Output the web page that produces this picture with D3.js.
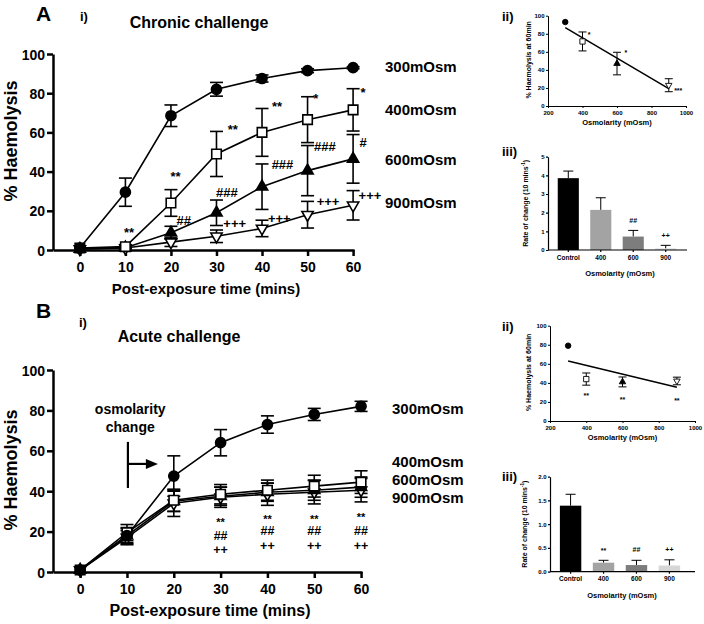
<!DOCTYPE html>
<html><head><meta charset="utf-8">
<script src="https://cdn.jsdelivr.net/npm/d3@7/dist/d3.min.js"></script>
<style>
body{margin:0;background:#fff;}
svg{font-family:"Liberation Sans",Arial,sans-serif;font-weight:bold;}
</style></head><body>
<svg id="fig" width="704" height="624"></svg>
<script>
// ---------------- DATA ----------------
const timesMin = [0, 10, 20, 30, 40, 50, 60];
const timeTicks = [0, 10, 20, 30, 40, 50, 60];
const haemTicks = [0, 20, 40, 60, 80, 100];
const osmLabels = ["300mOsm", "400mOsm", "600mOsm", "900mOsm"];

// A i) Chronic challenge (% haemolysis, mean and SEM)
const chronic300 = [1, 29.5, 68.5, 82, 87.5, 91.5, 93];
const chronic300Err = [0, 7.2, 5.5, 3.5, 1.8, 1, 0.5];
const chronic400 = [1, 1.7, 24, 49, 60, 66.5, 71.5];
const chronic400Err = [0, 1, 6.8, 11.5, 12.2, 11.7, 10.8];
const chronic600 = [0.5, 1.2, 8.8, 19, 32.3, 40.5, 46.5];
const chronic600Err = [0, 0.5, 3.3, 6.5, 11.6, 12.8, 12.4];
const chronic900 = [0.5, 1, 4, 7, 11, 18, 22.8];
const chronic900Err = [0, 0.5, 2.2, 3.2, 4.2, 6.8, 7.5];
const chronicSig = [
  {t: 10.8, v: 10.6, s: "**"}, {t: 21, v: 38.8, s: "**"}, {t: 22.8, v: 15.3, s: "##"},
  {t: 33.6, v: 62.9, s: "**"}, {t: 32.3, v: 29.4, s: "###"}, {t: 34, v: 13.6, s: "+++"},
  {t: 43.3, v: 74.5, s: "**"}, {t: 44.5, v: 43.7, s: "###"}, {t: 43.8, v: 16.2, s: "+++"},
  {t: 51.8, v: 78.6, s: "*"}, {t: 53.8, v: 52.7, s: "###"}, {t: 54.5, v: 24.6, s: "+++"},
  {t: 62.2, v: 82, s: "*"}, {t: 62.2, v: 54.7, s: "#"}, {t: 63.7, v: 27.6, s: "+++"}
];

// B i) Acute challenge
const acute300 = [1, 18, 47.5, 64, 73, 78, 82];
const acute300Err = [0, 4, 10, 6.5, 4.3, 3, 2.5];
const acute400 = [1, 19.5, 35.5, 38.5, 40.5, 42.5, 44.5];
const acute400Err = [0, 4, 5.5, 4.8, 5, 5.4, 5.6];
const acute600 = [1, 18, 35, 37.5, 39.5, 40.5, 42];
const acute600Err = [0, 3.5, 5, 4.5, 4.5, 5, 5];
const acute900 = [1, 17, 34, 37, 38.5, 39.5, 40.5];
const acute900Err = [0, 3.5, 6.5, 5, 5.5, 5.8, 5.8];
const acuteSigTimes = [30, 40, 50, 60];
const acuteSigText = ["**", "##", "++"];
const acuteSigLevels = [[25.7, 17.8, 10.9], [27.2, 20.3, 12.9], [27.5, 20.3, 12.9], [28.2, 20.3, 12.9]];

// ii) % haemolysis at 60 min vs osmolarity
const osmValues = [300, 400, 600, 900];
const osmTicks = [200, 400, 600, 800, 1000];
const chronicAt60 = [93, 71.5, 47, 23];
const chronicAt60Err = [0.5, 10.5, 12.5, 7.2];
const chronicAt60Sig = [{o: 438, v: 80.5, s: "*"}, {o: 652, v: 60.9, s: "*"}, {o: 955, v: 18.5, s: "***"}];
const acuteAt60 = [79, 44, 41, 42];
const acuteAt60Err = [0.5, 6.4, 5.2, 4];
const acuteAt60Sig = [{o: 400, v: 28.3, s: "**"}, {o: 600, v: 24.1, s: "**"}, {o: 900, v: 23, s: "**"}];

// iii) Rate of change (10 mins^-1)
const rateCategories = ["Control", "400", "600", "900"];
const chronicRate = [3.85, 2.15, 0.72, 0.08];
const chronicRateErr = [0.38, 0.65, 0.33, 0.17];
const chronicRateTicks = [0, 1, 2, 3, 4, 5];
const chronicRateSig = ["", "", "##", "++"];
const chronicRateSigLevel = [0, 0, 1.57, 0.8];
const acuteRate = [1.39, 0.19, 0.14, 0.13];
const acuteRateErr = [0.24, 0.05, 0.1, 0.12];
const acuteRateTicks = [0, 0.5, 1.0, 1.5, 2.0];
const acuteRateSig = ["**", "##", "++"];
const acuteRateSigLevel = [0.47, 0.47, 0.47];

// ---------------- DRAWING ----------------
const FONT = '"Liberation Sans", Arial, sans-serif';
const svg = d3.select("#fig");
const markerTypes = ["circle", "square", "triUp", "triDown"];
const markerFill = ["#000", "#fff", "#000", "#fff"];
const barFill = ["#000", "#a3a3a3", "#7d7d7d", "#d6d6d6"];

function symbolPath(type, size) {
  const t = type === "circle" ? d3.symbolCircle : type === "square" ? d3.symbolSquare : d3.symbolTriangle;
  return d3.symbol().type(t).size(size)();
}
function glyphOffset(s) { return s.indexOf("*") >= 0 ? 0.56 : 0.35; }

function styleAxis(a, sw, fs) {
  a.attr("font-family", FONT).attr("font-size", fs).attr("font-weight", "bold");
  a.selectAll("path,line").attr("stroke", "#000").attr("stroke-width", sw);
  a.selectAll("text").attr("fill", "#000");
}

function text(g, x, y, s, fs, anchor) {
  return g.append("text").attr("x", x).attr("y", y).attr("font-size", fs)
    .attr("font-weight", "bold").attr("text-anchor", anchor || "start").attr("fill", "#000").text(s);
}

function drawMain(o) {
  const g = svg.append("g");
  const x = d3.scaleLinear().domain(o.xDom).range(o.xr);
  const y = d3.scaleLinear().domain([0, 100]).range(o.yr);
  const xa = g.append("g").attr("transform", `translate(0,${o.yr[0]})`)
    .call(d3.axisBottom(x).tickValues(timeTicks).tickSize(6).tickSizeOuter(0).tickPadding(6));
  const ya = g.append("g").attr("transform", `translate(${o.xr[0]},0)`)
    .call(d3.axisLeft(y).tickValues(haemTicks).tickSize(6).tickSizeOuter(0).tickPadding(2));
  styleAxis(xa, 2.5, 14); styleAxis(ya, 2.5, 14);
  ya.selectAll(".tick text").attr("dy", "0.36em");

  const line = d3.line().x((d, i) => x(timesMin[i])).y(d => y(d));
  o.series.forEach(s => {
    g.append("path").attr("d", line(s)).attr("fill", "none").attr("stroke", "#000").attr("stroke-width", 1.6);
  });
  o.series.forEach((s, k) => {
    s.forEach((v, i) => {
      const e = o.errs[k][i]; if (!e) return;
      const cx = x(timesMin[i]), y1 = y(v - e), y2 = y(v + e);
      g.append("line").attr("x1", cx).attr("x2", cx).attr("y1", y1).attr("y2", y2).attr("stroke", "#000").attr("stroke-width", 1.6);
      [y1, y2].forEach(yy => g.append("line").attr("x1", cx - 6.5).attr("x2", cx + 6.5).attr("y1", yy).attr("y2", yy).attr("stroke", "#000").attr("stroke-width", 1.6));
    });
  });
  o.order.forEach(k => {
    const s = o.series[k];
    const sz = {circle: 80, square: 90, triUp: 55, triDown: 55}[markerTypes[k]];
    s.forEach((v, i) => {
      g.append("path").attr("d", symbolPath(markerTypes[k], sz))
        .attr("transform", `translate(${x(timesMin[i])},${y(v)})` + (markerTypes[k] === "triDown" ? " rotate(180)" : ""))
        .attr("fill", markerFill[k]).attr("stroke", "#000").attr("stroke-width", 1.6);
    });
  });
  text(g, o.letter[0], o.letter[1], o.letter[2], 21);
  text(g, o.roman[0], o.roman[1], "i)", 13);
  text(g, o.title[0], o.title[1], o.title[2], 16, "middle");
  text(g, o.xTitle[0], o.xTitle[1], "Post-exposure time (mins)", o.xTitle[2], "middle");
  g.append("text").attr("transform", `translate(${o.yTitle[0]},${o.yTitle[1]}) rotate(-90)`)
    .attr("text-anchor", "middle").attr("font-size", o.yTitle[2]).attr("font-weight", "bold").text("% Haemolysis");
  osmLabels.forEach((l, i) => text(g, o.labelX, o.labelY[i], l, 15));
  return {g, x, y};
}

// ---- A i
const A = drawMain({
  xDom: [-5.9, 60.2], xr: [53, 354], yr: [250, 54],
  series: [chronic300, chronic400, chronic600, chronic900],
  errs: [chronic300Err, chronic400Err, chronic600Err, chronic900Err],
  order: [3, 2, 1, 0],
  letter: [36, 21, "A"], roman: [80, 21], title: [199, 28, "Chronic challenge"],
  xTitle: [206, 294, 15], yTitle: [16.5, 141, 18],
  labelX: 385, labelY: [72, 115, 165, 208]
});
chronicSig.forEach(d => {
  text(A.g, A.x(d.t), A.y(d.v) + glyphOffset(d.s) * 13, d.s, 13, "middle");
});

// ---- B i
const B = drawMain({
  xDom: [-5.8, 60.2], xr: [53, 362], yr: [572, 370],
  series: [acute300, acute400, acute600, acute900],
  errs: [acute300Err, acute400Err, acute600Err, acute900Err],
  order: [3, 2, 1, 0],
  letter: [36, 318, "B"], roman: [79, 327], title: [179, 342, "Acute challenge"],
  xTitle: [210, 616, 16], yTitle: [16.5, 470, 18],
  labelX: 392, labelY: [414, 467, 485, 503]
});
acuteSigTimes.forEach((t, j) => {
  const tx = B.g.append("text").attr("text-anchor", "middle").attr("font-weight", "bold").attr("fill", "#000");
  acuteSigText.forEach((s, r) => {
    const fs = s.indexOf("*") >= 0 ? 11 : 12.5;
    tx.append("tspan").attr("x", B.x(t)).attr("y", B.y(acuteSigLevels[j][r]) + glyphOffset(s) * fs)
      .attr("font-size", fs).text(s);
  });
});
// osmolarity change annotation
text(B.g, B.x(10.7), 414, "osmolarity", 14, "middle");
text(B.g, B.x(10.7), 432, "change", 14, "middle");
{
  const x0 = B.x(10.2), yTop = B.y(64.4), yBot = B.y(41.6), yMid = B.y(53.5), xEnd = B.x(16.6);
  B.g.append("line").attr("x1", x0).attr("x2", x0).attr("y1", yTop).attr("y2", yBot).attr("stroke", "#000").attr("stroke-width", 2.2);
  B.g.append("line").attr("x1", x0).attr("x2", xEnd - 10).attr("y1", yMid).attr("y2", yMid).attr("stroke", "#000").attr("stroke-width", 2.2);
  B.g.append("path").attr("d", `M${xEnd - 12},${yMid - 5}L${xEnd},${yMid}L${xEnd - 12},${yMid + 5}Z`).attr("fill", "#000");
}

// ---- ii scatter panels
function drawScatter(o) {
  const g = svg.append("g");
  const x = d3.scaleLinear().domain([200, 1000]).range(o.xr);
  const y = d3.scaleLinear().domain([0, 100]).range(o.yr);
  const xa = g.append("g").attr("transform", `translate(0,${o.yr[0]})`)
    .call(d3.axisBottom(x).tickValues(osmTicks).tickFormat(d3.format("d")).tickSize(2).tickSizeOuter(0).tickPadding(2.5));
  const ya = g.append("g").attr("transform", `translate(${o.xr[0]},0)`)
    .call(d3.axisLeft(y).tickValues(haemTicks).tickSize(2).tickSizeOuter(0).tickPadding(1.5));
  styleAxis(xa, 1, 6); styleAxis(ya, 1, 6);
  // least-squares fit line
  const mx = d3.mean(osmValues), my = d3.mean(o.vals);
  const slope = d3.sum(osmValues, (v, i) => (v - mx) * (o.vals[i] - my)) / d3.sum(osmValues, v => (v - mx) ** 2);
  const icpt = my - slope * mx;
  const x1 = osmValues[0], x2 = osmValues[osmValues.length - 1];
  g.append("line").attr("x1", x(x1)).attr("x2", x(x2)).attr("y1", y(icpt + slope * x1)).attr("y2", y(icpt + slope * x2))
    .attr("stroke", "#000").attr("stroke-width", 1.5);
  o.vals.forEach((v, i) => {
    const e = o.errs[i], cx = x(osmValues[i]);
    if (e > 1) {
      const y1 = y(v - e), y2 = y(v + e);
      g.append("line").attr("x1", cx).attr("x2", cx).attr("y1", y1).attr("y2", y2).attr("stroke", "#000").attr("stroke-width", 1);
      [y1, y2].forEach(yy => g.append("line").attr("x1", cx - 4).attr("x2", cx + 4).attr("y1", yy).attr("y2", yy).attr("stroke", "#000").attr("stroke-width", 1));
    }
    const sz = {circle: 24, square: 28, triUp: 18, triDown: 18}[markerTypes[i]];
    g.append("path").attr("d", symbolPath(markerTypes[i], sz))
      .attr("transform", `translate(${cx},${y(v)})` + (markerTypes[i] === "triDown" ? " rotate(180)" : ""))
      .attr("fill", markerFill[i]).attr("stroke", "#000").attr("stroke-width", 0.9);
  });
  o.sig.forEach(d => text(g, x(d.o), y(d.v) + glyphOffset(d.s) * 7, d.s, 7, "middle"));
  text(g, o.roman[0], o.roman[1], "ii)", 13);
  text(g, (o.xr[0] + o.xr[1]) / 2, o.xTitleY, "Osmolarity (mOsm)", 7.5, "middle");
  g.append("text").attr("transform", `translate(${o.yTitleX},${(o.yr[0] + o.yr[1]) / 2 - 1}) rotate(-90)`)
    .attr("text-anchor", "middle").attr("font-size", 7).attr("font-weight", "bold").text("% Haemolysis at 60min");
}
drawScatter({xr: [548, 686], yr: [106, 15.7], vals: chronicAt60, errs: chronicAt60Err, sig: chronicAt60Sig,
  roman: [502, 21], xTitleY: 124.5, yTitleX: 531});
drawScatter({xr: [550, 695], yr: [421, 325.7], vals: acuteAt60, errs: acuteAt60Err, sig: acuteAt60Sig,
  roman: [502, 331], xTitleY: 440, yTitleX: 531});

// ---- iii bar panels
function drawBars(o) {
  const g = svg.append("g");
  const x = d3.scaleBand().domain(rateCategories).range(o.xr).paddingInner(0.35).paddingOuter(0.3);
  const y = d3.scaleLinear().domain([0, o.ticks[o.ticks.length - 1]]).range(o.yr);
  o.vals.forEach((v, i) => {
    const c = rateCategories[i], cx = x(c) + x.bandwidth() / 2;
    const top = y(v + o.errs[i]);
    g.append("line").attr("x1", cx).attr("x2", cx).attr("y1", y(v)).attr("y2", top).attr("stroke", "#000").attr("stroke-width", 1);
    g.append("line").attr("x1", cx - 5).attr("x2", cx + 5).attr("y1", top).attr("y2", top).attr("stroke", "#000").attr("stroke-width", 1);
    g.append("rect").attr("x", x(c)).attr("width", x.bandwidth()).attr("y", y(v)).attr("height", y(0) - y(v))
      .attr("fill", barFill[i]);
  });
  const xa = g.append("g").attr("transform", `translate(0,${o.yr[0]})`)
    .call(d3.axisBottom(x).tickSize(2).tickSizeOuter(0).tickPadding(o.pad));
  xa.select(".domain").attr("d", `M${o.xr[0]},0H${o.xEnd}`);
  const ya = g.append("g").attr("transform", `translate(${o.xr[0]},0)`)
    .call(d3.axisLeft(y).tickValues(o.ticks).tickFormat(o.fmt).tickSize(2).tickSizeOuter(0).tickPadding(1.5));
  styleAxis(xa, 1.2, 6.5); styleAxis(ya, 1.2, 6);
  o.sigs.forEach((s, k) => {
    if (!s) return;
    const c = rateCategories[o.sigIdx[k]];
    text(g, x(c) + x.bandwidth() / 2, y(o.sigLv[k]) + glyphOffset(s) * 7, s, 7, "middle");
  });
  text(g, o.roman[0], o.roman[1], "iii)", 13);
  text(g, o.xTitleX, o.xTitleY, "Osmolarity (mOsm)", 7.5, "middle");
  const yt = g.append("text").attr("transform", `translate(${o.yTitleX},${(o.yr[0] + o.yr[1]) / 2}) rotate(-90)`)
    .attr("text-anchor", "middle").attr("font-size", 7).attr("font-weight", "bold");
  yt.append("tspan").text("Rate of change (10 mins");
  yt.append("tspan").attr("font-size", 4.5).attr("dy", -3).text("-1");
  yt.append("tspan").attr("dy", 3).text(")");
}
drawBars({xr: [548, 686], xEnd: 687, yr: [250, 156.7], vals: chronicRate, errs: chronicRateErr, ticks: chronicRateTicks,
  fmt: d3.format("d"), pad: 3.5, sigs: chronicRateSig, sigIdx: [0, 1, 2, 3], sigLv: chronicRateSigLevel,
  roman: [502, 156], xTitleX: 620, xTitleY: 275.5, yTitleX: 528});
drawBars({xr: [550, 690], xEnd: 695, yr: [571.7, 476.7], vals: acuteRate, errs: acuteRateErr, ticks: acuteRateTicks,
  fmt: d3.format(".1f"), pad: 3, sigs: acuteRateSig, sigIdx: [1, 2, 3], sigLv: acuteRateSigLevel,
  roman: [502, 481], xTitleX: 622, xTitleY: 597.5, yTitleX: 527});
</script>
</body></html>
